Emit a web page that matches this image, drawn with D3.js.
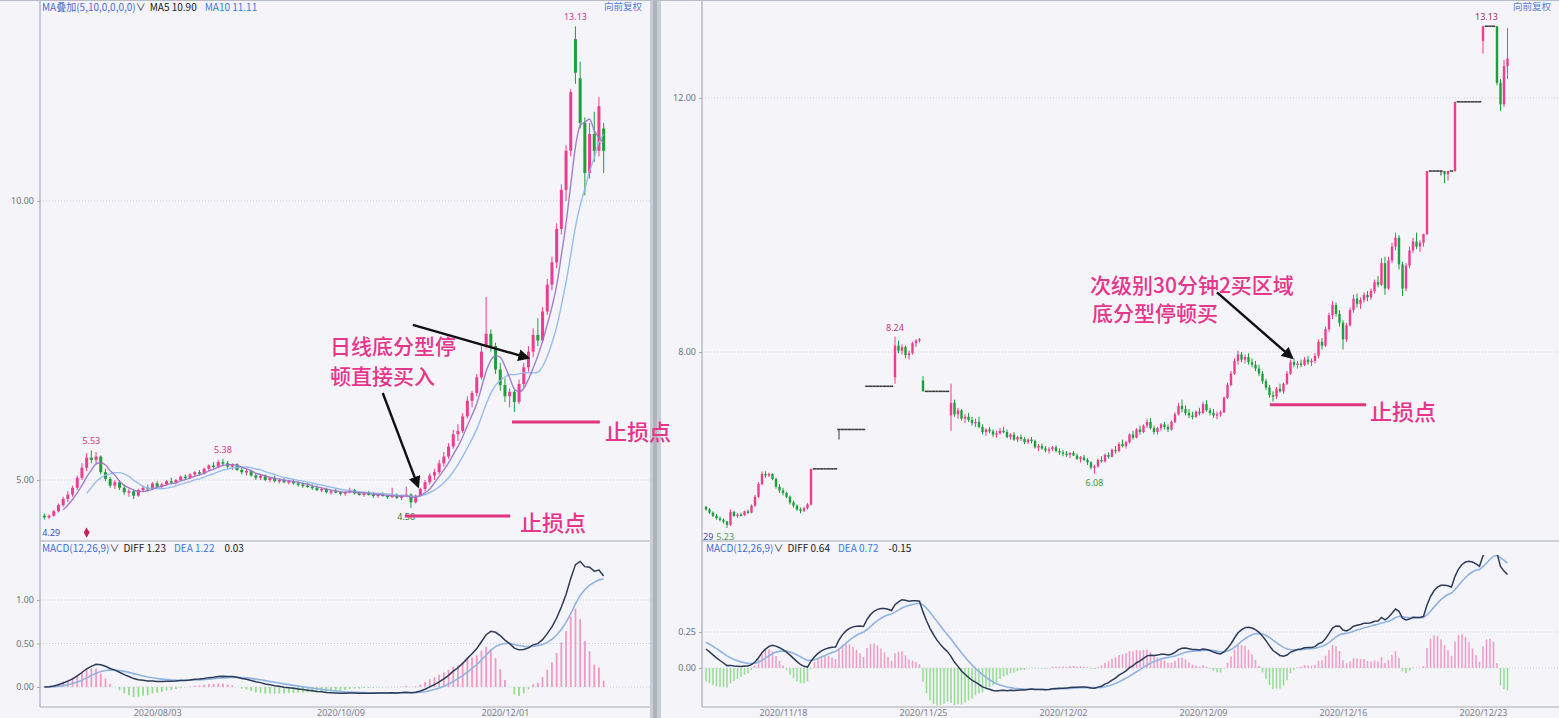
<!DOCTYPE html>
<html><head><meta charset="utf-8">
<script src="https://cdn.jsdelivr.net/npm/d3@7"></script>
<style>
html,body{margin:0;padding:0;background:#f4f4f9;}
svg{display:block;}
</style></head><body>
<svg id="c" width="1559" height="718"></svg>
<script>
// ---------------- DATA ----------------
// Left: daily candles [open, high, low, close]
const leftCandles = [
[4.36,4.40,4.29,4.33],[4.33,4.38,4.30,4.36],[4.36,4.46,4.34,4.44],[4.44,4.58,4.42,4.55],[4.55,4.70,4.52,4.66],
[4.66,4.80,4.60,4.74],[4.74,4.90,4.70,4.86],[4.86,5.08,4.82,5.04],[5.04,5.30,5.00,5.22],[5.22,5.48,5.16,5.40],
[5.40,5.53,5.30,5.36],[5.36,5.50,5.28,5.42],[5.42,5.44,5.10,5.14],[5.14,5.20,4.98,5.02],[5.02,5.06,4.86,4.90],
[4.90,5.00,4.84,4.96],[4.96,5.00,4.82,4.86],[4.86,4.92,4.74,4.78],[4.78,4.84,4.70,4.80],[4.80,4.82,4.66,4.72],
[4.72,4.84,4.70,4.82],[4.82,4.90,4.78,4.86],[4.86,4.92,4.80,4.84],[4.84,4.96,4.82,4.94],[4.94,4.98,4.86,4.88],
[4.88,4.95,4.84,4.92],[4.92,5.00,4.90,4.98],[4.98,5.04,4.92,4.96],[4.96,5.02,4.92,5.00],[5.00,5.08,4.98,5.06],
[5.06,5.10,5.00,5.04],[5.04,5.12,5.02,5.10],[5.10,5.16,5.06,5.14],[5.14,5.18,5.08,5.12],[5.12,5.22,5.10,5.20],
[5.20,5.28,5.16,5.26],[5.26,5.32,5.20,5.24],[5.24,5.36,5.22,5.32],[5.32,5.38,5.26,5.30],[5.30,5.34,5.20,5.24],
[5.24,5.30,5.18,5.28],[5.28,5.30,5.16,5.18],[5.18,5.22,5.10,5.14],[5.14,5.20,5.08,5.16],[5.16,5.18,5.06,5.08],
[5.08,5.12,5.00,5.04],[5.04,5.10,5.00,5.08],[5.08,5.10,4.98,5.00],[5.00,5.06,4.96,5.04],[5.04,5.08,4.96,4.98],
[4.98,5.02,4.94,5.00],[5.00,5.04,4.94,4.96],[4.96,5.00,4.92,4.98],[4.98,5.02,4.92,4.94],[4.94,4.98,4.88,4.92],
[4.92,4.96,4.86,4.90],[4.90,4.94,4.86,4.88],[4.88,4.92,4.82,4.86],[4.86,4.90,4.80,4.82],[4.82,4.86,4.78,4.84],
[4.84,4.86,4.76,4.78],[4.78,4.82,4.74,4.80],[4.80,4.84,4.76,4.78],[4.78,4.80,4.72,4.76],[4.76,4.80,4.72,4.78],
[4.78,4.86,4.76,4.82],[4.82,4.84,4.74,4.76],[4.76,4.80,4.72,4.74],[4.74,4.78,4.70,4.76],[4.76,4.80,4.72,4.74],
[4.74,4.78,4.68,4.72],[4.72,4.76,4.68,4.74],[4.74,4.78,4.70,4.72],[4.72,4.74,4.66,4.70],[4.70,4.86,4.68,4.72],
[4.72,4.76,4.66,4.68],[4.68,4.74,4.64,4.72],[4.72,4.88,4.70,4.74],[4.74,4.76,4.50,4.60],[4.60,4.74,4.58,4.72],
[4.72,4.86,4.70,4.84],[4.84,5.00,4.80,4.96],[4.96,5.12,4.92,5.08],[5.08,5.20,5.00,5.14],[5.14,5.36,5.10,5.30],
[5.30,5.50,5.24,5.42],[5.42,5.66,5.38,5.60],[5.60,5.90,5.56,5.82],[5.82,6.00,5.70,5.88],[5.88,6.20,5.84,6.14],
[6.14,6.50,6.10,6.42],[6.42,6.60,6.30,6.56],[6.56,6.90,6.50,6.84],[6.84,7.40,6.80,7.30],[7.40,8.28,7.36,7.62],
[7.62,7.70,7.30,7.40],[7.40,7.46,6.90,6.98],[6.98,7.10,6.60,6.70],[6.70,6.82,6.40,6.50],[6.50,6.64,6.30,6.58],
[6.58,6.62,6.22,6.40],[6.40,6.80,6.36,6.72],[6.72,7.10,6.66,7.02],[7.02,7.40,6.94,7.30],[7.30,7.72,7.20,7.60],
[7.60,7.90,7.40,7.50],[7.50,8.10,7.46,8.02],[8.02,8.60,7.96,8.50],[8.50,9.00,8.40,8.90],[8.90,9.60,8.80,9.50],
[9.50,10.30,9.40,10.20],[10.20,11.00,10.00,10.90],[10.90,12.00,10.80,11.95],[12.90,13.13,12.10,12.30],[12.20,12.50,11.30,11.40],
[11.40,11.50,10.10,10.50],[10.50,11.40,10.40,11.20],[11.20,11.60,10.70,10.90],[10.90,11.86,10.80,11.70],[11.30,11.40,10.50,10.90]
];

// Right: 30-minute candles, 8 per trading day [open, high, low, close]
const rightCandles = [
// 11/13 (partial)
[5.56,5.58,5.50,5.52],[5.52,5.54,5.45,5.47],[5.47,5.49,5.40,5.42],[5.42,5.45,5.36,5.38],[5.38,5.41,5.33,5.36],[5.36,5.38,5.30,5.33],
// 11/16
[5.33,5.34,5.23,5.28],[5.28,5.52,5.26,5.48],[5.48,5.50,5.40,5.42],[5.42,5.46,5.39,5.44],[5.44,5.47,5.41,5.43],[5.43,5.50,5.42,5.49],[5.49,5.52,5.45,5.47],[5.47,5.60,5.46,5.58],
// 11/17
[5.58,5.75,5.56,5.72],[5.72,5.95,5.70,5.92],[5.92,6.12,5.90,6.08],[6.08,6.12,6.02,6.06],[6.06,6.10,6.03,6.08],[6.08,6.09,5.98,6.00],[6.00,6.02,5.85,5.88],[5.88,5.92,5.78,5.82],
// 11/18
[5.82,5.86,5.74,5.78],[5.78,5.80,5.70,5.72],[5.72,5.74,5.60,5.63],[5.63,5.66,5.55,5.58],[5.58,5.60,5.50,5.52],[5.52,5.55,5.46,5.50],[5.50,5.56,5.48,5.54],[5.54,5.62,5.52,5.60],
// 11/19
[5.60,6.16,5.58,6.16],[6.16,6.16,6.16,6.16],[6.16,6.16,6.16,6.16],[6.16,6.16,6.16,6.16],[6.16,6.16,6.16,6.16],[6.16,6.16,6.16,6.16],[6.16,6.16,6.16,6.16],[6.16,6.16,6.16,6.16],
// 11/20
[6.78,6.78,6.62,6.78],[6.78,6.78,6.78,6.78],[6.78,6.78,6.78,6.78],[6.78,6.78,6.78,6.78],[6.78,6.78,6.78,6.78],[6.78,6.78,6.78,6.78],[6.78,6.78,6.78,6.78],[6.78,6.78,6.78,6.78],
// 11/23
[7.46,7.46,7.46,7.46],[7.46,7.46,7.46,7.46],[7.46,7.46,7.46,7.46],[7.46,7.46,7.46,7.46],[7.46,7.46,7.46,7.46],[7.46,7.46,7.46,7.46],[7.46,7.46,7.46,7.46],[7.46,7.46,7.46,7.46],
// 11/24
[7.60,8.24,7.50,8.10],[8.10,8.18,7.98,8.02],[8.02,8.12,7.96,8.08],[8.08,8.10,7.90,7.95],[7.95,8.02,7.88,7.98],[7.98,8.16,7.96,8.14],[8.14,8.20,8.08,8.18],[8.18,8.22,8.15,8.20],
// 11/25
[7.55,7.62,7.38,7.38],[7.38,7.38,7.38,7.38],[7.38,7.38,7.38,7.38],[7.38,7.38,7.38,7.38],[7.38,7.38,7.38,7.38],[7.38,7.38,7.38,7.38],[7.38,7.38,7.38,7.38],[7.38,7.38,7.38,7.38],
// 11/26
[7.00,7.50,6.76,7.20],[7.20,7.25,6.98,7.02],[7.02,7.12,6.95,7.08],[7.08,7.10,6.92,6.95],[6.95,7.02,6.88,6.98],[6.98,7.04,6.90,6.93],[6.93,6.98,6.84,6.88],[6.88,6.95,6.82,6.90],
// 11/27
[6.90,6.98,6.80,6.82],[6.82,6.86,6.70,6.74],[6.74,6.80,6.68,6.78],[6.78,6.82,6.72,6.75],[6.75,6.78,6.66,6.70],[6.70,6.76,6.65,6.72],[6.72,6.80,6.70,6.76],[6.76,6.82,6.72,6.74],
// 11/30
[6.74,6.78,6.64,6.66],[6.66,6.72,6.62,6.70],[6.70,6.74,6.60,6.62],[6.62,6.68,6.58,6.66],[6.66,6.70,6.60,6.63],[6.63,6.66,6.55,6.58],[6.58,6.64,6.55,6.62],[6.62,6.66,6.56,6.60],
// 12/01
[6.60,6.62,6.48,6.50],[6.50,6.55,6.44,6.52],[6.52,6.56,6.46,6.48],[6.48,6.52,6.42,6.45],[6.45,6.50,6.40,6.47],[6.47,6.52,6.44,6.50],[6.50,6.53,6.42,6.44],[6.44,6.48,6.38,6.42],
// 12/02
[6.42,6.46,6.36,6.40],[6.40,6.44,6.35,6.38],[6.38,6.42,6.33,6.41],[6.41,6.44,6.36,6.37],[6.37,6.40,6.30,6.32],[6.32,6.36,6.26,6.34],[6.34,6.38,6.28,6.30],[6.30,6.33,6.22,6.26],
// 12/03
[6.26,6.28,6.15,6.18],[6.18,6.22,6.08,6.20],[6.20,6.32,6.18,6.30],[6.30,6.36,6.26,6.28],[6.28,6.40,6.26,6.38],[6.38,6.42,6.32,6.35],[6.35,6.48,6.34,6.46],[6.46,6.52,6.40,6.44],
// 12/04
[6.44,6.58,6.42,6.55],[6.55,6.62,6.50,6.52],[6.52,6.60,6.48,6.58],[6.58,6.72,6.56,6.70],[6.70,6.76,6.62,6.65],[6.65,6.80,6.64,6.78],[6.78,6.84,6.70,6.74],[6.74,6.86,6.72,6.84],
// 12/07
[6.84,6.95,6.80,6.90],[6.90,6.96,6.78,6.80],[6.80,6.84,6.70,6.74],[6.74,6.82,6.70,6.80],[6.80,6.88,6.76,6.86],[6.86,6.90,6.78,6.82],[6.82,6.86,6.74,6.78],[6.78,6.92,6.76,6.90],
// 12/08
[6.90,7.05,6.88,7.02],[7.02,7.20,7.00,7.15],[7.15,7.25,7.05,7.10],[7.10,7.16,7.00,7.04],[7.04,7.10,6.96,7.00],[7.00,7.06,6.94,6.98],[6.98,7.08,6.96,7.06],[7.06,7.12,7.00,7.04],
// 12/09
[7.04,7.22,7.02,7.18],[7.18,7.24,7.06,7.08],[7.08,7.12,7.00,7.04],[7.04,7.10,6.96,7.00],[7.00,7.06,6.94,7.02],[7.02,7.08,6.98,7.05],[7.05,7.30,7.04,7.28],[7.28,7.52,7.26,7.48],
// 12/10
[7.48,7.70,7.46,7.66],[7.66,7.90,7.64,7.86],[7.86,8.02,7.80,7.96],[7.96,8.00,7.84,7.88],[7.88,7.96,7.82,7.92],[7.92,7.98,7.80,7.84],[7.84,7.90,7.76,7.80],[7.80,7.86,7.70,7.74],
// 12/11
[7.74,7.80,7.62,7.66],[7.66,7.70,7.50,7.54],[7.54,7.58,7.40,7.44],[7.44,7.48,7.28,7.32],[7.32,7.38,7.22,7.30],[7.30,7.45,7.26,7.42],[7.42,7.50,7.36,7.38],[7.38,7.52,7.34,7.50],
// 12/14
[7.50,7.70,7.48,7.66],[7.66,7.88,7.64,7.84],[7.84,7.90,7.76,7.80],[7.80,7.86,7.74,7.82],[7.82,7.88,7.76,7.80],[7.80,7.92,7.78,7.88],[7.88,7.94,7.80,7.84],[7.84,7.90,7.78,7.86],
// 12/15
[7.86,7.98,7.82,7.94],[7.94,8.20,7.90,8.16],[8.16,8.22,8.04,8.10],[8.10,8.40,8.08,8.36],[8.36,8.62,8.32,8.58],[8.58,8.80,8.52,8.74],[8.74,8.78,8.56,8.60],[8.60,8.66,8.40,8.46],
// 12/16
[8.46,8.50,8.04,8.20],[8.20,8.46,8.16,8.42],[8.42,8.70,8.40,8.66],[8.66,8.90,8.62,8.84],[8.84,8.92,8.70,8.76],[8.76,8.86,8.68,8.82],[8.82,8.94,8.78,8.90],[8.90,8.96,8.80,8.86],
// 12/17
[8.86,9.00,8.82,8.96],[8.96,9.14,8.92,9.10],[9.10,9.20,9.02,9.06],[9.06,9.48,9.04,9.40],[9.40,9.50,8.90,9.00],[9.00,9.50,8.98,9.44],[9.44,9.72,9.40,9.66],[9.66,9.88,9.60,9.80],
// 12/18
[9.80,9.84,9.30,9.38],[9.38,9.42,8.88,9.00],[9.00,9.40,8.96,9.36],[9.36,9.66,9.32,9.60],[9.60,9.80,9.56,9.74],[9.74,9.88,9.62,9.66],[9.66,9.76,9.58,9.72],[9.72,9.86,9.66,9.86],
// 12/21
[9.86,10.85,9.84,10.85],[10.85,10.85,10.85,10.85],[10.85,10.85,10.85,10.85],[10.85,10.85,10.85,10.85],[10.85,10.85,10.78,10.85],[10.85,10.85,10.66,10.80],[10.80,10.85,10.70,10.85],[10.85,10.85,10.85,10.85],
// 12/22
[10.85,11.94,10.84,11.94],[11.94,11.94,11.94,11.94],[11.94,11.94,11.94,11.94],[11.94,11.94,11.94,11.94],[11.94,11.94,11.94,11.94],[11.94,11.94,11.94,11.94],[11.94,11.94,11.94,11.94],[11.94,11.94,11.94,11.94],
// 12/23
[12.90,13.13,12.70,13.13],[13.13,13.13,13.13,13.13],[13.13,13.13,13.13,13.13],[13.13,13.13,13.13,13.13],[13.13,13.13,12.20,12.24],[12.24,12.30,11.80,11.90],[11.90,12.60,11.86,12.50],[12.50,13.10,12.30,12.62]
];

const leftPriceTicks = [5, 10];
const rightPriceTicks = [8, 12];
const leftMacdTicks = [0, 0.5, 1];
const rightMacdTicks = [0, 0.25];

const leftDateIdx = [24, 63, 98];
const leftDateText = ["2020/08/03", "2020/10/09", "2020/12/01"];
const rightDateIdx = [22, 62, 102, 142, 182, 222];
const rightDateText = ["2020/11/18", "2020/11/25", "2020/12/02", "2020/12/09", "2020/12/16", "2020/12/23"];

// indicator state carried in from before the first visible bar (DIF≈0.15, DEA≈0.19)
const rightMacdSeed = {e12: 5.61, e26: 5.46, dea: 0.19};

// extreme-price labels
const leftPriceMarks = [
  {i: 10, p: 5.53, t: "5.53", pos: "top", c: "#d23a8c"},
  {i: 38, p: 5.38, t: "5.38", pos: "top", c: "#d23a8c"},
  {i: 113, p: 13.13, t: "13.13", pos: "top", c: "#d23a8c"},
  {i: 77, p: 4.50, t: "4.50", pos: "bottom", c: "#3c7a3c"}
];
const rightPriceMarks = [
  {i: 54, p: 8.24, t: "8.24", pos: "top", c: "#c8388a"},
  {i: 111, p: 6.08, t: "6.08", pos: "bottom", c: "#3f9a3f"},
  {i: 5.5, p: 5.23, t: "5.23", pos: "bottom", c: "#5a9a4a"},
  {i: 223, p: 13.13, t: "13.13", pos: "top", c: "#a8306e"}
];

// annotations (in data coordinates: candle index, price)
const leftNotes = [
  {i: 60.8, p: 7.26, t: "日线底分型停", size: 21},
  {i: 60.8, p: 6.72, t: "顿直接买入", size: 21},
  {i: 101.2, p: 4.09, t: "止损点", size: 22},
  {i: 119.3, p: 5.72, t: "止损点", size: 22}
];
const rightNotes = [
  {i: 109.7, p: 8.93, t: "次级别30分钟2买区域", size: 21},
  {i: 110.3, p: 8.49, t: "底分型停顿买", size: 21},
  {i: 189.7, p: 6.93, t: "止损点", size: 22}
];
const leftArrows = [
  {i0: 72.0, p0: 6.56, i1: 79.5, p1: 4.89},
  {i0: 78.4, p0: 7.78, i1: 102.9, p1: 7.19}
];
const rightArrows = [
  {i0: 146.0, p0: 8.94, i1: 167.4, p1: 7.91}
];
const leftStops = [
  {i0: 76.7, i1: 99.1, p: 4.355},
  {i0: 99.5, i1: 118.2, p: 6.04}
];
const rightStops = [
  {i0: 161.1, i1: 188.6, p: 7.17}
];

// ---------------- DRAW ----------------
const W = 1559, H = 718;
const svg = d3.select("#c");
const UP = "#ec3d90", DOWN = "#1f9e3c", FLAT = "#3a3a3a";
const PINK = "#e6358b";
const NUMFONT = "'Noto Sans','DejaVu Sans',sans-serif";
const CJK = "'Noto Sans CJK SC','Noto Sans',sans-serif";

svg.append("rect").attr("width", W).attr("height", H).attr("fill", "#f4f4f9");

const defs = svg.append("defs");
defs.append("marker").attr("id", "arr").attr("viewBox", "0 0 10 10")
  .attr("refX", 8).attr("refY", 5).attr("markerWidth", 5).attr("markerHeight", 5)
  .attr("orient", "auto-start-reverse")
  .append("path").attr("d", "M0,0 L10,5 L0,10 z").attr("fill", "#111");

function macdOf(closes, seed) {
  const a12 = 2 / 13, a26 = 2 / 27;
  let e12 = seed ? seed.e12 : closes[0];
  let e26 = seed ? seed.e26 : closes[0];
  let dea = seed ? seed.dea : 0;
  return closes.map(c => {
    e12 += a12 * (c - e12);
    e26 += a26 * (c - e26);
    const dif = e12 - e26;
    dea += 0.2 * (dif - dea);
    return {dif, dea, hist: 2 * (dif - dea)};
  });
}
function maOf(closes, n) {
  return closes.map((c, k) => k >= n - 1 ? d3.mean(closes.slice(k - n + 1, k + 1)) : null);
}

function drawPanel(cfg) {
  const {candles, x, y, my, step, bodyW, axisX, right, priceTop, divY, bottomY, clipId} = cfg;
  const g = svg.append("g");
  defs.append("clipPath").attr("id", clipId + "p").append("rect")
    .attr("x", axisX + 1).attr("y", priceTop).attr("width", right - axisX - 1).attr("height", divY - priceTop - 1);
  defs.append("clipPath").attr("id", clipId + "m").append("rect")
    .attr("x", axisX + 1).attr("y", divY + 14).attr("width", right - axisX - 1).attr("height", bottomY - divY - 15);

  // grid lines
  g.append("g").selectAll("line").data(cfg.priceTicks).join("line")
    .attr("x1", axisX).attr("x2", right).attr("y1", d => y(d)).attr("y2", d => y(d))
    .attr("stroke", "#cfd0dc").attr("stroke-dasharray", "1,2");
  g.append("g").selectAll("line").data(cfg.macdTicks).join("line")
    .attr("x1", axisX).attr("x2", right).attr("y1", d => my(d)).attr("y2", d => my(d))
    .attr("stroke", "#cfd0dc").attr("stroke-dasharray", "1,2");

  // candles
  const col = d => d[3] > d[0] ? UP : (d[3] < d[0] ? DOWN : FLAT);
  const cg = g.append("g").attr("clip-path", `url(#${clipId}p)`);
  cg.selectAll("line.w").data(candles).join("line").attr("class", "w")
    .attr("x1", (d, i) => x(i)).attr("x2", (d, i) => x(i))
    .attr("y1", d => y(d[1])).attr("y2", d => y(d[2]))
    .attr("stroke", col).attr("stroke-width", 1);
  cg.selectAll("rect.b").data(candles).join("rect").attr("class", "b")
    .attr("x", (d, i) => d[0] === d[3] ? x(i) - step / 2 : x(i) - bodyW / 2)
    .attr("width", d => d[0] === d[3] ? step : bodyW)
    .attr("y", d => y(Math.max(d[0], d[3])) - (d[0] === d[3] ? 0.75 : 0))
    .attr("height", d => Math.max(1.5, Math.abs(y(d[0]) - y(d[3]))))
    .attr("fill", col);

  // moving averages
  const closes = candles.map(d => d[3]);
  if (cfg.ma) {
    cfg.ma.forEach(m => {
      const vals = maOf(closes, m.n);
      cg.append("path").datum(vals)
        .attr("d", d3.line().defined(v => v != null).x((v, i) => x(i)).y(v => y(v)).curve(d3.curveMonotoneX))
        .attr("fill", "none").attr("stroke", m.color).attr("stroke-width", 1.4).attr("opacity", 0.9);
    });
  }

  // MACD
  const mac = macdOf(closes, cfg.seed);
  const mg = g.append("g").attr("clip-path", `url(#${clipId}m)`);
  mg.selectAll("line.h").data(mac).join("line").attr("class", "h")
    .attr("x1", (d, i) => x(i)).attr("x2", (d, i) => x(i))
    .attr("y1", my(0)).attr("y2", d => my(d.hist))
    .attr("stroke", d => d.hist >= 0 ? "#f09ac4" : "#93dc90").attr("stroke-width", cfg.histW);
  mg.append("path").datum(mac)
    .attr("d", d3.line().x((d, i) => x(i)).y(d => my(d.dea)))
    .attr("fill", "none").attr("stroke", "#8fb4e2").attr("stroke-width", 1.6);
  mg.append("path").datum(mac)
    .attr("d", d3.line().x((d, i) => x(i)).y(d => my(d.dif)))
    .attr("fill", "none").attr("stroke", "#2c3b58").attr("stroke-width", 1.5);

  // frame lines
  g.append("line").attr("x1", axisX).attr("x2", axisX).attr("y1", 0).attr("y2", bottomY).attr("stroke", "#a7abb8").attr("stroke-width", 1.2);
  g.append("line").attr("x1", axisX).attr("x2", right).attr("y1", divY).attr("y2", divY).attr("stroke", "#a7abb8").attr("stroke-width", 1.2);
  g.append("line").attr("x1", axisX).attr("x2", right).attr("y1", bottomY).attr("y2", bottomY).attr("stroke", "#a7abb8").attr("stroke-width", 1.2);

  // y axes
  const ax1 = g.append("g").attr("transform", `translate(${axisX},0)`)
    .call(d3.axisLeft(y).tickValues(cfg.priceTicks).tickSize(3).tickFormat(d3.format(".2f")));
  const ax2 = g.append("g").attr("transform", `translate(${axisX},0)`)
    .call(d3.axisLeft(my).tickValues(cfg.macdTicks).tickSize(3).tickFormat(d3.format(".2f")));
  [ax1, ax2].forEach(a => {
    a.select(".domain").remove();
    a.selectAll("line").attr("stroke", "#a7abb8");
    a.selectAll("text").attr("fill", "#6f7380").attr("font-size", 9).attr("font-family", NUMFONT);
  });
  // x axis (dates)
  const xa = g.append("g").attr("transform", `translate(0,${bottomY})`)
    .call(d3.axisBottom(x).tickValues(cfg.dateIdx).tickSize(0).tickPadding(3)
      .tickFormat((d, k) => cfg.dateText[k]));
  xa.select(".domain").remove();
  xa.selectAll("text").attr("fill", "#7a7e8a").attr("font-size", 9).attr("font-family", NUMFONT);

  // extreme labels
  g.append("g").selectAll("text").data(cfg.marks).join("text")
    .attr("x", d => x(d.i)).attr("y", d => d.pos === "top" ? y(d.p) - 6 : y(d.p) + 12)
    .attr("text-anchor", "middle").attr("font-size", 9).attr("font-family", NUMFONT)
    .attr("fill", d => d.c).text(d => d.t);

  // stop-loss lines
  g.append("g").selectAll("line").data(cfg.stops).join("line")
    .attr("x1", d => x(d.i0)).attr("x2", d => x(d.i1)).attr("y1", d => y(d.p)).attr("y2", d => y(d.p))
    .attr("stroke", "#e2357f").attr("stroke-width", 3);

  // arrows
  g.append("g").selectAll("line").data(cfg.arrows).join("line")
    .attr("x1", d => x(d.i0)).attr("y1", d => y(d.p0)).attr("x2", d => x(d.i1)).attr("y2", d => y(d.p1))
    .attr("stroke", "#111").attr("stroke-width", 2.4).attr("marker-end", "url(#arr)");

  // top-right 向前复权
  g.append("text").attr("x", right - 8).attr("y", 10).attr("text-anchor", "end")
    .attr("font-size", 9.5).attr("font-family", CJK).attr("fill", "#5a7fd6").text("向前复权");

  return {g, mac};
}

const leftX = d3.scaleLinear().domain([0, leftCandles.length - 1]).range([44.35, 603.65]);
const rightX = d3.scaleLinear().domain([0, rightCandles.length - 1]).range([706, 1507.5]);
const leftY = d3.scaleLinear().domain([5, 10]).range([480, 201]);
const rightY = d3.scaleLinear().domain([8, 12]).range([352, 98]);
const leftMY = d3.scaleLinear().domain([0, 1]).range([687, 600]);
const rightMY = d3.scaleLinear().domain([0, 0.25]).range([668, 632]);

drawPanel({
  candles: leftCandles, x: leftX, y: leftY, my: leftMY, step: 4.7, bodyW: 3, histW: 1.8,
  axisX: 40, right: 650, priceTop: 14, divY: 541, bottomY: 707, clipId: "L",
  priceTicks: leftPriceTicks, macdTicks: leftMacdTicks, dateIdx: leftDateIdx, dateText: leftDateText,
  ma: [{n: 10, color: "#8db8ec"}, {n: 5, color: "#9a72c4"}],
  seed: null, marks: leftPriceMarks, stops: leftStops, arrows: leftArrows
});
drawPanel({
  candles: rightCandles, x: rightX, y: rightY, my: rightMY, step: 3.5, bodyW: 2.4, histW: 1.5,
  axisX: 702, right: 1559, priceTop: 14, divY: 541, bottomY: 707, clipId: "R",
  priceTicks: rightPriceTicks, macdTicks: rightMacdTicks, dateIdx: rightDateIdx, dateText: rightDateText,
  ma: null, seed: rightMacdSeed, marks: rightPriceMarks, stops: rightStops, arrows: rightArrows
});

// separator between the two screenshots
svg.append("rect").attr("x", 650).attr("y", 0).attr("width", 11).attr("height", H).attr("fill", "#c9ccd4");
svg.append("rect").attr("x", 653).attr("y", 0).attr("width", 4).attr("height", H).attr("fill", "#aeb2bc");
svg.append("line").attr("x1", 0).attr("x2", W).attr("y1", 0.5).attr("y2", 0.5).attr("stroke", "#b8bcc6");

// header texts
function header(x0, y0, parts) {
  const t = svg.append("text").attr("x", x0).attr("y", y0).attr("font-size", 10).attr("font-family", CJK);
  parts.forEach(p => t.append("tspan").attr("fill", p[1]).attr("dx", p[2] || 0).text(p[0]));
}
header(42, 11, [["MA叠加(5,10,0,0,0,0)", "#4a6fd0"], ["∨", "#333"], ["MA5 10.90", "#222", 4], ["MA10 11.11", "#3d7be0", 8]]);
header(42, 552, [["MACD(12,26,9)", "#4a6fd0"], ["∨", "#333"], ["DIFF 1.23", "#222", 4], ["DEA 1.22", "#3d7be0", 8], ["0.03", "#222", 10]]);
header(706, 552, [["MACD(12,26,9)", "#4a6fd0"], ["∨", "#333"], ["DIFF 0.64", "#222", 4], ["DEA 0.72", "#3d7be0", 8], ["-0.15", "#222", 10]]);

// small extra labels at the lower-left of each panel
svg.append("text").attr("x", leftX(0) - 2).attr("y", leftY(4.29) + 16).attr("font-size", 9).attr("font-family", NUMFONT).attr("fill", "#3a55c0").text("4.29");
svg.append("path").attr("d", d3.symbol(d3.symbolDiamond, 30)()).attr("transform", `translate(${leftX(9)},${leftY(4.29) + 13})`).attr("fill", "#c8205a");
svg.append("text").attr("x", 703).attr("y", rightY(5.23) + 12).attr("font-size", 9).attr("font-family", NUMFONT).attr("fill", "#3a55c0").text("29");

// annotation texts
function notes(list, x, y) {
  svg.append("g").selectAll("text").data(list).join("text")
    .attr("x", d => x(d.i)).attr("y", d => y(d.p))
    .attr("font-size", d => d.size).attr("font-family", CJK).attr("font-weight", 500)
    .attr("fill", PINK).text(d => d.t);
}
notes(leftNotes, leftX, leftY);
notes(rightNotes, rightX, rightY);
</script>
</body></html>
